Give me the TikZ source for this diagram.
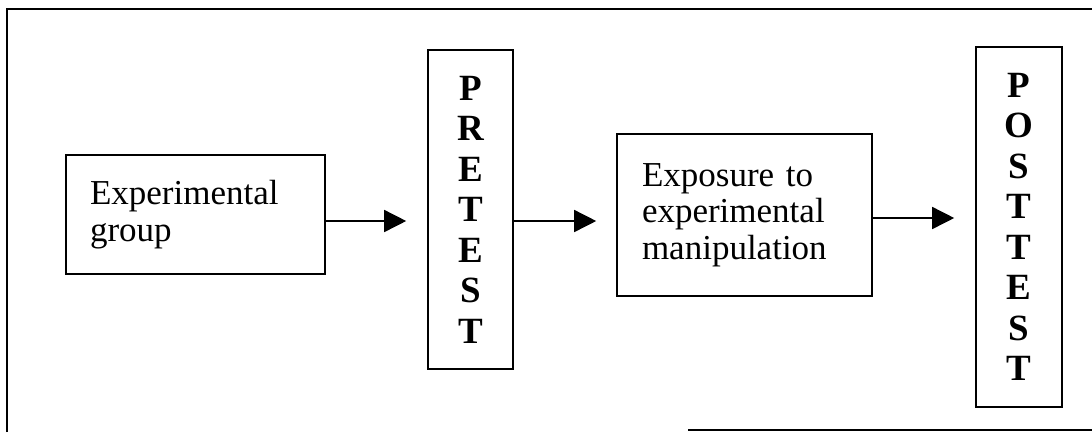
\documentclass[tikz,border=0pt]{standalone}
\usepackage{fontspec}
\setmainfont{Liberation Serif}
\usetikzlibrary{arrows.meta}
\tikzset{
  x=1pt, y=-1pt,
  box/.style={draw, line width=1.6pt, inner sep=0pt},
  txtbox/.style={box, align=left, font=\fontsize{35}{36.5}\selectfont},
  letters/.style={box, align=center, font=\fontsize{37}{40.5}\selectfont\bfseries},
  flow/.style={line width=1.5pt, -{Triangle[length=22pt,width=22pt]}},
  frame/.style={line width=2pt}
}
\begin{document}
\begin{tikzpicture}
\useasboundingbox (0,0) rectangle (1092,432);
% outer frame (its right side runs off the page)
\draw[frame] (7,432) -- (7,9) -- (1100,9);
\draw[frame] (688,430) -- (1100,430);

% boxes
\node[txtbox, text width=211pt, inner xsep=24pt, minimum height=119pt] (grp) at (195.5,214.5)
  {Experimental\\group};
\node[letters, minimum width=85pt, minimum height=319pt] (pre) at (470.5,209.5)
  {P\\R\\E\\T\\E\\S\\T};
\node[txtbox, text width=205pt, inner xsep=25pt, minimum height=162pt] (exp) at (744.5,215)
  {Exposure to\\experimental\\manipulation};
\node[letters, minimum width=86pt, minimum height=360pt] (post) at (1019,227)
  {P\\O\\S\\T\\T\\E\\S\\T};

% connectors
\coordinate (ya) at (0,221);
\coordinate (yb) at (0,218);
\draw[flow, shorten >=21pt] (grp.east |- ya) -- (pre.west |- ya);
\draw[flow, shorten >=20pt] (pre.east |- ya) -- (exp.west |- ya);
\draw[flow, shorten >=21pt] (exp.east |- yb) -- (post.west |- yb);
\end{tikzpicture}
\end{document}
